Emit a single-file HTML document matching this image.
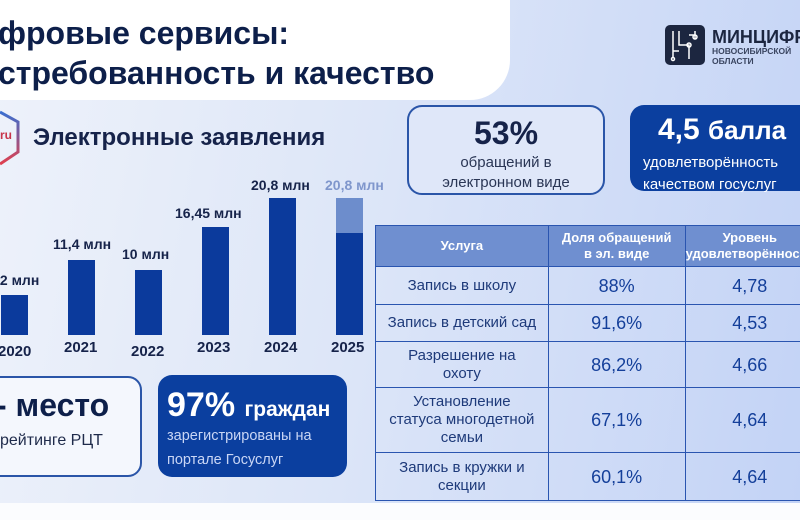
<!DOCTYPE html>
<html><head><meta charset="utf-8"><style>
*{margin:0;padding:0;box-sizing:border-box}
body{width:800px;height:520px;overflow:hidden;position:relative;font-family:"Liberation Sans","DejaVu Sans",sans-serif;background:#fff}
#bg{position:absolute;left:0;top:0;width:800px;height:503px;background:linear-gradient(100deg,#eef2fa 0%,#dde6f8 45%,#c3d3f6 100%)}
#bot{position:absolute;left:0;top:503px;width:800px;height:17px;background:#fbfcfe}
#hdr{position:absolute;left:-20px;top:-20px;width:530px;height:120px;background:#fff;border-bottom-right-radius:40px}
.t{position:absolute;white-space:nowrap}
.bar{position:absolute;background:#0b3a9c;width:27px}
.yl{position:absolute;font-weight:bold;font-size:15px;color:#16234a;top:342px;white-space:nowrap}
.vl{position:absolute;font-weight:bold;font-size:14px;color:#16234a;white-space:nowrap}
table{position:absolute;left:375px;top:225px;width:440px;border-collapse:collapse;color:#1a3c8f}
td,th{border:1.5px solid #2a55b0;text-align:center}
th{background:#6f8fd0;color:#fff;font-size:13px;height:41px;line-height:16px}
td{font-size:15px;line-height:18px;color:#1e3a7a}
td.n{font-size:18px;color:#143f9a}
</style></head><body>
<div id="bg"></div><div id="bot"></div>
<div id="hdr"></div>
<div class="t" style="left:-2px;top:15px;font-size:32px;font-weight:bold;color:#0d1f4a">фровые сервисы:</div>
<div class="t" style="left:-2px;top:55px;font-size:32px;font-weight:bold;color:#0d1f4a">стребованность и качество</div>

<div style="position:absolute;left:665px;top:25px;width:40px;height:40px;background:#1c2640;border-radius:5px"></div>
<svg style="position:absolute;left:665px;top:25px" width="40" height="40"><g stroke="#fff" stroke-width="1.5" fill="none"><path d="M8 6V32M14 6V20H24V34M30 6V14M24 10H30M14 26H8"/><circle cx="30" cy="12" r="2"/><circle cx="24" cy="20" r="2"/><circle cx="8" cy="34" r="1.5"/></g></svg>
<div class="t" style="left:712px;top:27px;font-size:18px;font-weight:bold;color:#1c2640">МИНЦИФР</div>
<div class="t" style="left:712px;top:46px;font-size:8.5px;font-weight:bold;color:#3a4560">НОВОСИБИРСКОЙ</div>
<div class="t" style="left:712px;top:56px;font-size:8.5px;font-weight:bold;color:#3a4560">ОБЛАСТИ</div>

<svg style="position:absolute;left:-20px;top:108px" width="45" height="60"><defs><linearGradient id="g" x1="0" y1="0" x2="0" y2="1"><stop offset="0" stop-color="#3a6fd0"/><stop offset="1" stop-color="#e0404e"/></linearGradient></defs><path d="M20 4L38 14V44L20 56" stroke="url(#g)" stroke-width="3" fill="none"/></svg>
<div class="t" style="left:0;top:128px;font-size:12px;font-weight:bold;color:#c8344a">ru</div>
<div class="t" style="left:33px;top:124px;font-size:24px;font-weight:bold;color:#16234a">Электронные заявления</div>

<div class="bar" style="left:1px;top:295px;height:40px"></div>
<div class="bar" style="left:68px;top:260px;height:75px"></div>
<div class="bar" style="left:135px;top:270px;height:65px"></div>
<div class="bar" style="left:202px;top:227px;height:108px"></div>
<div class="bar" style="left:269px;top:198px;height:137px"></div>
<div class="bar" style="left:336px;top:233px;height:102px"></div>
<div class="bar" style="left:336px;top:198px;height:35px;background:#6d8dcc"></div>
<div class="vl" style="left:-4px;top:272px">,2 млн</div>
<div class="vl" style="left:53px;top:236px">11,4 млн</div>
<div class="vl" style="left:122px;top:246px">10 млн</div>
<div class="vl" style="left:175px;top:205px">16,45 млн</div>
<div class="vl" style="left:251px;top:177px">20,8 млн</div>
<div class="vl" style="left:325px;top:177px;color:#7f96cc">20,8 млн</div>
<div class="yl" style="left:-2px;top:343px">2020</div>
<div class="yl" style="left:64px;top:339px">2021</div>
<div class="yl" style="left:131px;top:343px">2022</div>
<div class="yl" style="left:197px;top:339px">2023</div>
<div class="yl" style="left:264px;top:339px">2024</div>
<div class="yl" style="left:331px;top:339px">2025</div>

<div style="position:absolute;left:-20px;top:376px;width:162px;height:101px;border:2px solid #2a55a8;border-radius:14px;background:#f4f7fd"></div>
<div class="t" style="left:-4px;top:387px;font-size:32px;font-weight:bold;color:#0d1f4a">- место</div>
<div class="t" style="left:0;top:432px;font-size:16px;color:#1e2a4a">рейтинге РЦТ</div>
<div style="position:absolute;left:158px;top:375px;width:189px;height:102px;background:#0b3f9f;border-radius:14px"></div>
<div class="t" style="left:167px;top:386px;color:#fff;font-weight:bold;font-size:34px">97% <span style="font-size:21px">граждан</span></div>
<div class="t" style="left:167px;top:424px;color:#c9d6f5;font-size:14.5px;line-height:24px">зарегистрированы на<br>портале Госуслуг</div>

<div style="position:absolute;left:407px;top:105px;width:198px;height:90px;border:2px solid #2a55a8;border-radius:15px;background:#dfe7f9"></div>
<div class="t" style="left:407px;top:115px;width:198px;text-align:center;font-size:32px;font-weight:bold;color:#16234a">53%</div>
<div class="t" style="left:407px;top:153px;width:198px;text-align:center;font-size:15px;line-height:20px;color:#2a3655">обращений в<br>электронном виде</div>
<div style="position:absolute;left:630px;top:105px;width:200px;height:86px;background:#0b3f9f;border-radius:14px"></div>
<div class="t" style="left:658px;top:113px;color:#fff;font-weight:bold;font-size:30px">4,5 <span style="font-size:26px">балла</span></div>
<div class="t" style="left:643px;top:152px;color:#fff;font-size:15px;line-height:22px">удовлетворённость<br>качеством госуслуг</div>

<table>
<tr><th style="width:173px">Услуга</th><th style="width:137px">Доля обращений<br>в эл. виде</th><th>Уровень<br>удовлетворённость</th></tr>
<tr style="height:38px"><td>Запись в школу</td><td class="n">88%</td><td class="n">4,78</td></tr>
<tr style="height:37px"><td>Запись в детский сад</td><td class="n">91,6%</td><td class="n">4,53</td></tr>
<tr style="height:46px"><td>Разрешение на<br>охоту</td><td class="n">86,2%</td><td class="n">4,66</td></tr>
<tr style="height:65px"><td>Установление<br>статуса многодетной<br>семьи</td><td class="n">67,1%</td><td class="n">4,64</td></tr>
<tr style="height:48px"><td>Запись в кружки и<br>секции</td><td class="n">60,1%</td><td class="n">4,64</td></tr>
</table>
</body></html>
